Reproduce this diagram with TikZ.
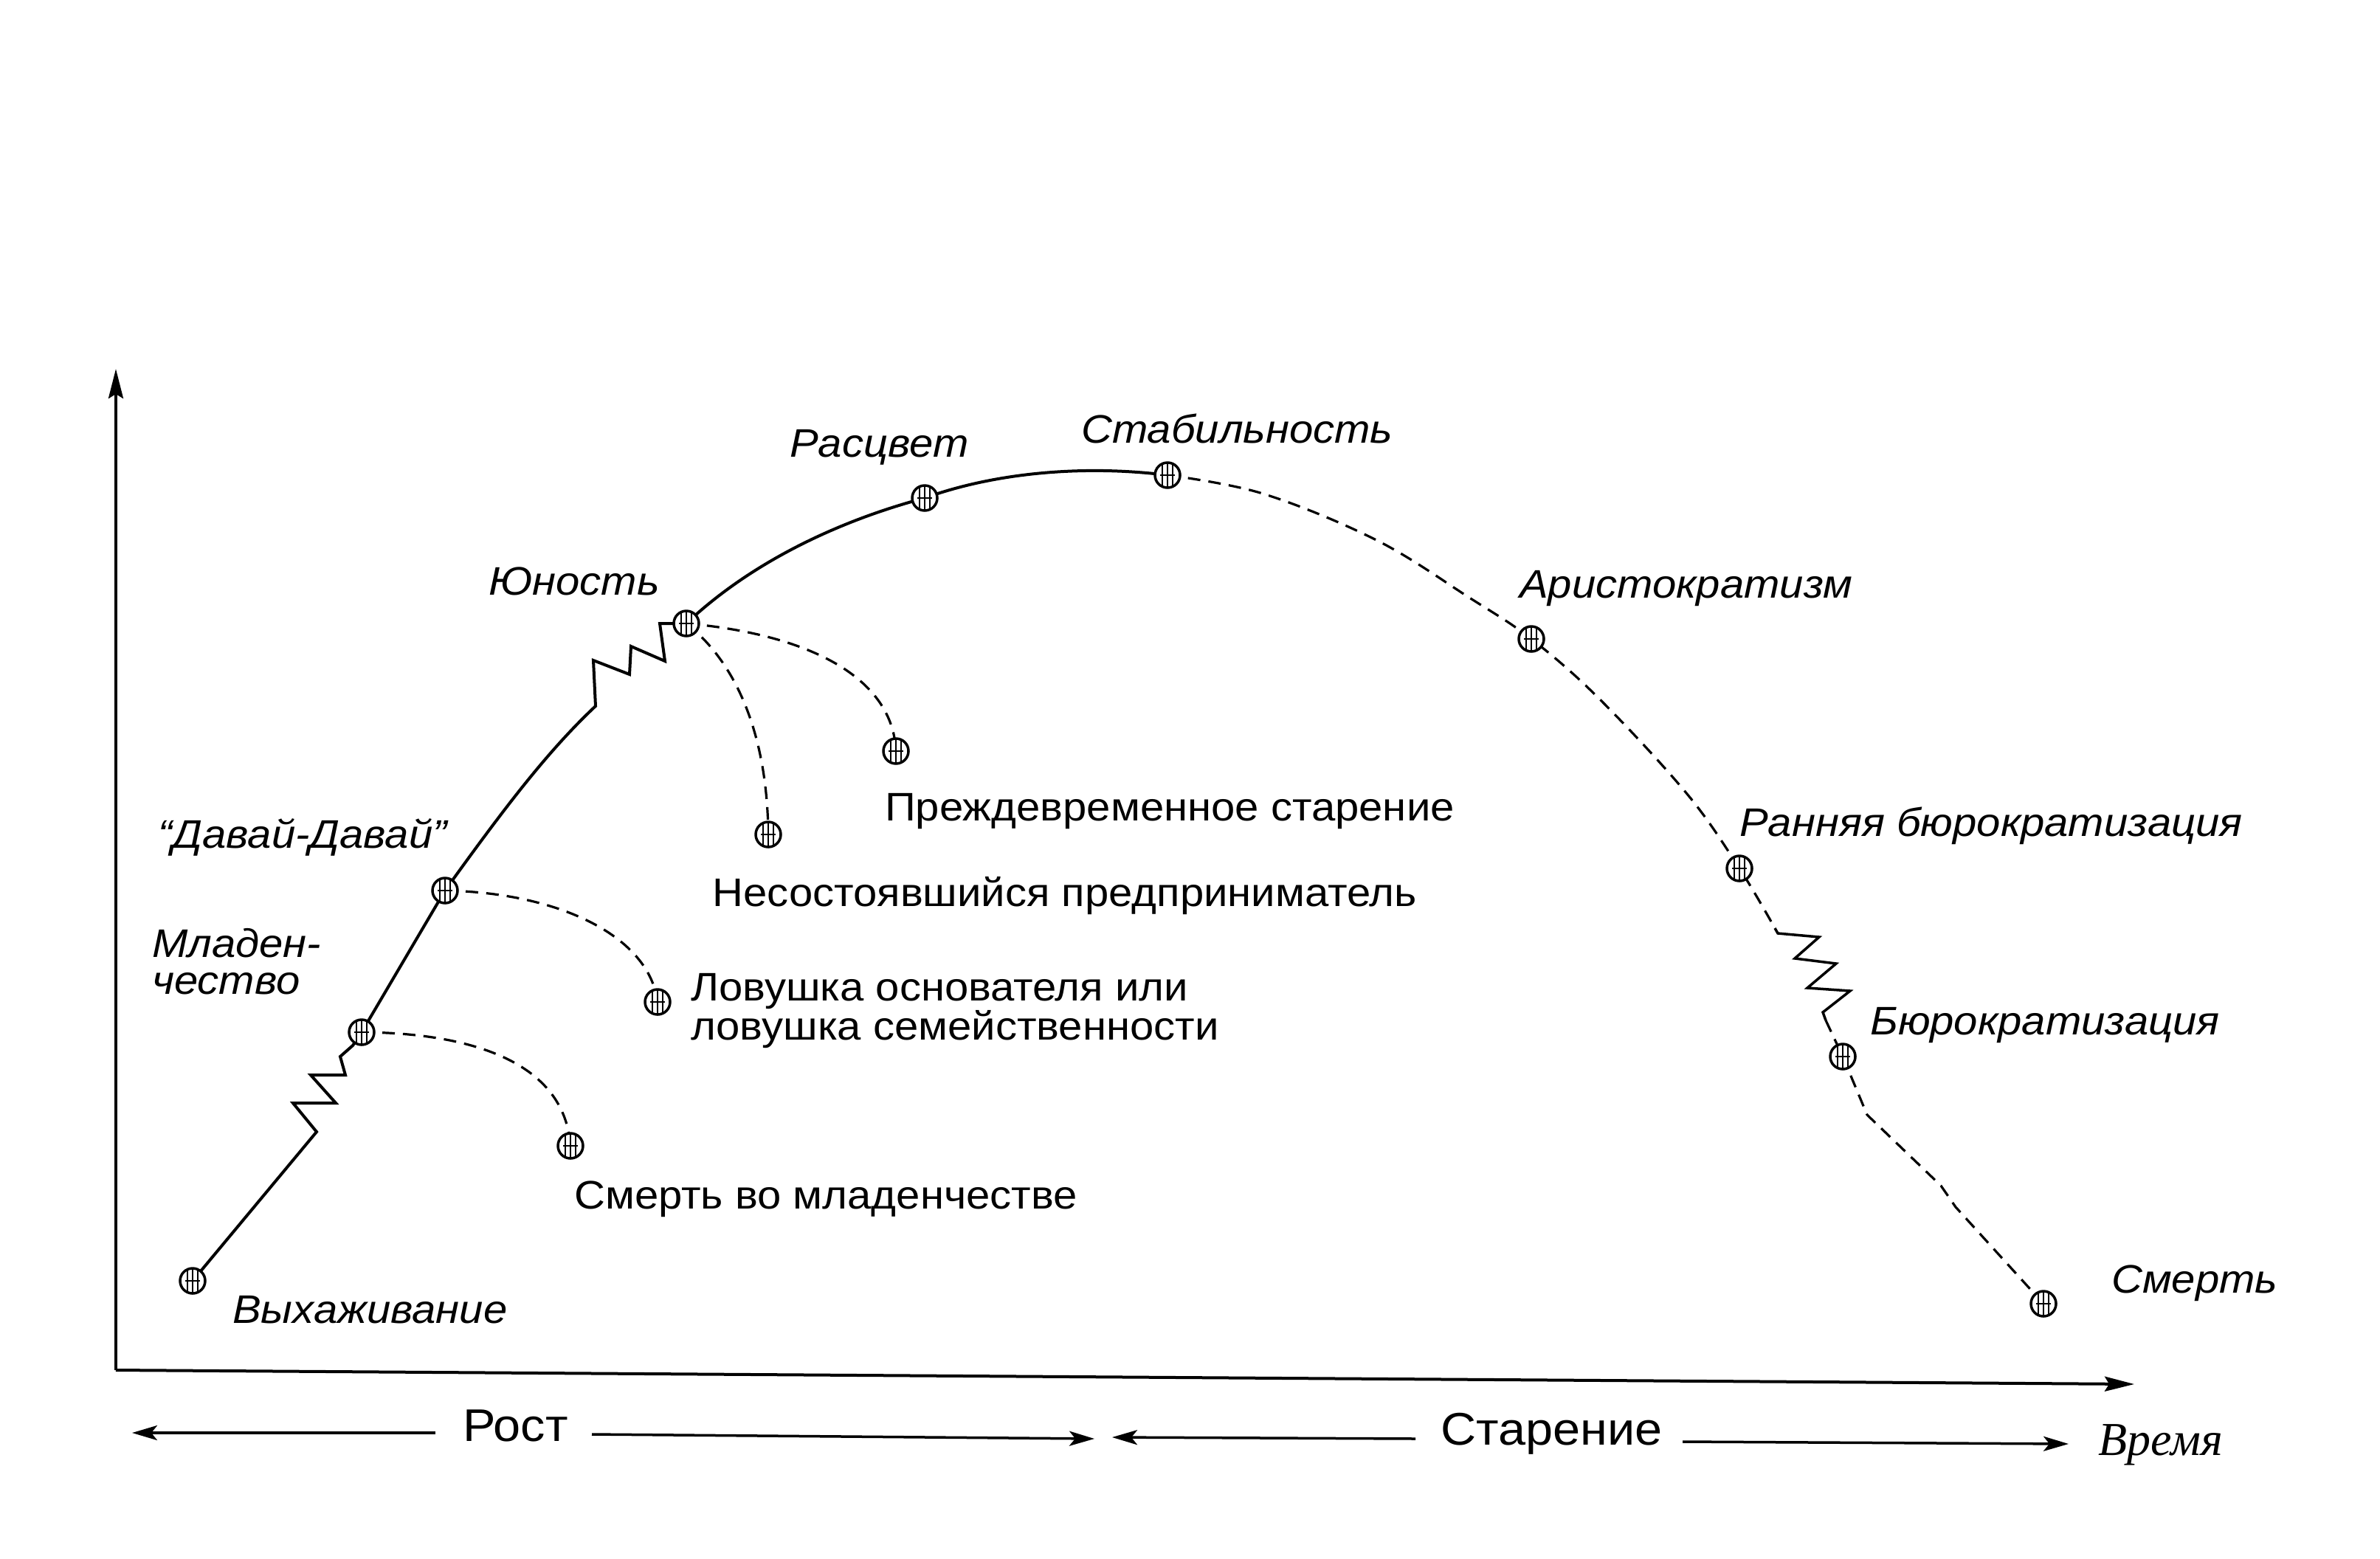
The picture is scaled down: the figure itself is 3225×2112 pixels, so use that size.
\documentclass[tikz,border=0pt]{standalone}
\usepackage{fontspec}
\setmainfont[FakeStretch=1.075]{Liberation Sans}
\newfontfamily\serifface{Liberation Serif}
\usetikzlibrary{arrows.meta,backgrounds}
\newcommand\LCfont{\fontsize{54}{50}\selectfont}
\newcommand\LCbig{\fontsize{62}{60}\selectfont}
\tikzset{
  lcdot/.style={circle, draw, line width=3.5pt, fill=white, minimum size=34pt, inner sep=0pt,
    path picture={
      \draw[line width=2pt] ([xshift=-7pt]path picture bounding box.north) -- ([xshift=-7pt]path picture bounding box.south);
      \draw[line width=2pt] ([xshift=0pt]path picture bounding box.north) -- ([xshift=0pt]path picture bounding box.south);
      \draw[line width=2pt] ([xshift=7pt]path picture bounding box.north) -- ([xshift=7pt]path picture bounding box.south);
      \draw[line width=1.5pt] ([xshift=-10pt]path picture bounding box.center) -- ([xshift=10pt]path picture bounding box.center);
    }},
  solidline/.style={line width=4pt, line join=miter},
  dashline/.style={line width=3.2pt, dash pattern=on 17pt off 11pt},
  axisline/.style={line width=4pt},
  stagelbl/.style={inner sep=0pt, anchor=base west, font=\LCfont\itshape, align=left},
  traplbl/.style={inner sep=0pt, anchor=base west, font=\LCfont, align=left},
  phaselbl/.style={inner sep=0pt, anchor=base west, font=\LCbig},
  barrow/.style={line width=3.5pt, -{Stealth[length=34pt,width=20pt,inset=8pt]}},
}
\begin{document}
\begin{tikzpicture}[x=1pt,y=-1pt]
\useasboundingbox (0,0) rectangle (3225,2112);

% axes
\coordinate (O) at (157,1857);
\coordinate (ytop) at (157,500);
\coordinate (xend) at (2892,1876);
\draw[axisline, -{Stealth[length=40pt,width=20pt,inset=6pt]}] (O) -- (ytop);
\draw[axisline, -{Stealth[length=40pt,width=20pt,inset=6pt]}] (O) -- (xend);

% stage points
\node[lcdot] (p1) at (261,1736) {};
\node[lcdot] (p2) at (490,1399) {};
\node[lcdot] (p3) at (603,1207) {};
\node[lcdot] (p4) at (930,845) {};
\node[lcdot] (p5) at (1253,675) {};
\node[lcdot] (p6) at (1582,644) {};
\node[lcdot] (p7) at (2075,866) {};
\node[lcdot] (p8) at (2357,1177) {};
\node[lcdot] (p9) at (2497,1432) {};
\node[lcdot] (p10) at (2769,1767) {};
% trap points
\node[lcdot] (d1) at (773,1553) {};
\node[lcdot] (d2) at (891,1358) {};
\node[lcdot] (d3) at (1041,1131) {};
\node[lcdot] (d4) at (1214,1018) {};

\begin{scope}[on background layer]
\fill[white] (0,0) rectangle (3225,2112);
% growth curve
\draw[solidline] (p1.center) -- (429,1534) -- (397,1495) -- (455,1495) -- (421,1457) -- (468,1457) -- (461,1432) -- (478,1417) -- (p2.center);
\draw[solidline] (p2.center) -- (p3.center);
\draw[solidline] (p3.center) .. controls (680,1100) and (740,1020) .. (807,957)
   -- (804,895) -- (853,914) -- (855,876) -- (901,896) -- (894,845) -- (p4.center);
\draw[solidline] (p4.center) .. controls (1020,760) and (1140,705) .. (p5.center)
   .. controls (1350,640) and (1470,630) .. (p6.center);
% ageing curve
\draw[dashline] plot[smooth, tension=0.6] coordinates {(p6.center) (1711,669) (1865,732) (1991,810) (p7.center) (2167,947) (2286,1076) (p8.center) (2405,1258)};
\draw[solidline, line width=3.5pt] (2405,1258) -- (2409,1265) -- (2465,1270) -- (2432,1299) -- (2488,1306) -- (2449,1339) -- (2507,1343) -- (2470,1372) -- (2474,1383);
\draw[dashline] (2474,1383) -- (p9.center);
\draw[dashline] (p9.center) -- (2530,1511) -- (2630,1607) -- (2650,1636) -- (p10.center);
% traps
\draw[dashline] (p2.center) .. controls (640,1400) and (765,1440) .. (d1.center);
\draw[dashline] (p3.center) .. controls (760,1210) and (880,1270) .. (d2.center);
\draw[dashline] (p4.center) .. controls (1000,900) and (1040,1000) .. (d3.center);
\draw[dashline] (p4.center) .. controls (1100,860) and (1210,920) .. (d4.center);
\end{scope}

% stage labels
\node[stagelbl] (l1) at (315,1793) {Выхаживание};
\node[stagelbl] (l2) at (206,1347) {Младен-\\чество};
\node[stagelbl] (l3) at (214,1149) {“Давай-Давай”};
\node[stagelbl] (l4) at (662,806) {Юность};
\node[stagelbl] (l5) at (1070,619) {Расцвет};
\node[stagelbl] (l6) at (1465,600) {Стабильность};
\node[stagelbl] (l7) at (2059,810) {Аристократизм};
\node[stagelbl] (l8) at (2357,1133) {Ранняя бюрократизация};
\node[stagelbl] (l9) at (2534,1402) {Бюрократизация};
\node[stagelbl] (l10) at (2861,1752) {Смерть};
% trap labels
\node[traplbl] (t1) at (778,1638) {Смерть во младенчестве};
\node[traplbl] (t2) at (936,1409) {Ловушка основателя или\\ловушка семейственности};
\node[traplbl] (t3) at (965,1228) {Несостоявшийся предприниматель};
\node[traplbl] (t4) at (1199,1112) {Преждевременное старение};

% phase arrows
\node[phaselbl] (rost) at (627,1953) {Рост};
\node[phaselbl] (star) at (1952,1958) {Старение};
\node[inner sep=0pt, anchor=base west, font=\fontsize{64}{60}\selectfont\serifface\itshape] (vrem) at (2843,1972) {Время};
\coordinate (ra0) at (590,1942); \coordinate (ra1) at (179,1942);
\coordinate (rb0) at (802,1944); \coordinate (rb1) at (1483,1950);
\coordinate (sa0) at (1918,1950); \coordinate (sa1) at (1507,1948);
\coordinate (sb0) at (2280,1954); \coordinate (sb1) at (2803,1957);
\draw[barrow] (ra0) -- (ra1);
\draw[barrow] (rb0) -- (rb1);
\draw[barrow] (sa0) -- (sa1);
\draw[barrow] (sb0) -- (sb1);
\end{tikzpicture}
\end{document}
